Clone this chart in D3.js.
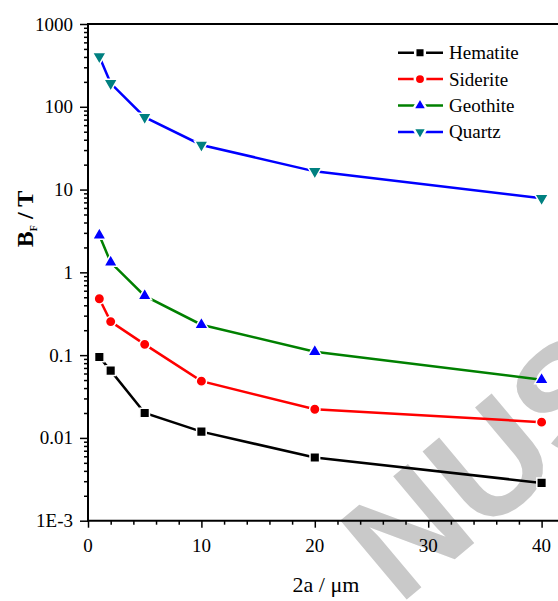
<!DOCTYPE html>
<html lang="en">
<head>
	<title>B_F vs 2a</title>
	<script src="https://d3js.org/d3.v7.min.js" charset="utf-8"></script>
    <style>
        body { margin: 0; background: #fff; }
        text { font-family: "Liberation Serif", "Times New Roman", serif; }
        .axis path, .axis line { stroke: #000; }
    </style>
</head>
<body>
	<script>
    var width = 558,
        height = 601;

    // data
    var sizes = [1, 2, 5, 10, 20, 40];
    var seriesNames = ["Hematite", "Siderite", "Geothite", "Quartz"];
    var hematite = [0.095, 0.065, 0.020, 0.0119, 0.0058, 0.00286];
    var siderite = [0.48, 0.254, 0.135, 0.0485, 0.0222, 0.0155];
    var geothite = [2.8, 1.32, 0.52, 0.233, 0.110, 0.0505];
    var quartz = [405, 192, 75, 34.6, 16.6, 7.85];
    var xTicks = [0, 10, 20, 30, 40];
    var yTicks = [0.001, 0.01, 0.1, 1, 10, 100, 1000];
    var yTickLabels = ["1E-3", "0.01", "0.1", "1", "10", "100", "1000"];

    var series = [
        {name: seriesNames[0], values: hematite, line: "#000000", fill: "#000000", symbol: d3.symbolSquare, size: 92, rot: 0},
        {name: seriesNames[1], values: siderite, line: "#ff0000", fill: "#ff0000", symbol: d3.symbolCircle, size: 85, rot: 0},
        {name: seriesNames[2], values: geothite, line: "#008000", fill: "#0000ff", symbol: d3.symbolTriangle, size: 82, rot: 0},
        {name: seriesNames[3], values: quartz, line: "#0000ff", fill: "#008080", symbol: d3.symbolTriangle, size: 82, rot: 180}
    ];

    var plotLeft = 88, plotTop = 24, plotBottom = 520.7;

    var x = d3.scaleLinear()
            .domain([0, 42])
            .range([plotLeft, plotLeft + 42 * 11.34]);

    var y = d3.scaleLog()
            .domain([0.001, 1000])
            .range([plotBottom, plotTop]);

    var svg = d3.select("body").append("svg")
                .attr("width", width)
                .attr("height", height);

    // watermark behind the plot
    svg.append("text")
        .attr("transform", "translate(399,606) rotate(-40)")
        .attr("fill", "#c9c9c9")
        .style("font-family", "'Liberation Sans', sans-serif")
        .style("font-weight", "bold")
        .style("font-size", "150px")
        .text("NUS");

    // frame top line
    svg.append("line")
        .attr("x1", x(0) - 1).attr("x2", x(42))
        .attr("y1", plotTop).attr("y2", plotTop)
        .attr("stroke", "#000")
        .attr("stroke-width", 2);

    // x axis
    var xAxis = svg.append("g")
        .attr("class", "axis")
        .attr("transform", "translate(0," + plotBottom + ")")
        .call(d3.axisBottom(x)
            .tickValues(d3.range(0, 43, 2))
            .tickSize(4)
            .tickFormat(""));
    xAxis.select(".domain").attr("stroke-width", 2).attr("d", "M" + (x(0) - 1) + ",0H" + x(42));
    xAxis.selectAll(".tick line").attr("stroke-width", 1.5)
        .attr("y2", function(d) { return d % 10 == 0 ? 7 : 4; });

    svg.append("g").selectAll("text")
        .data(xTicks)
        .enter().append("text")
        .attr("x", function(d) { return x(d); })
        .attr("y", 552)
        .attr("text-anchor", "middle")
        .style("font-size", "19px")
        .text(function(d) { return d; });

    // y axis with log minor ticks
    var minor = [];
    for (var e = -3; e < 3; e++) {
        for (var m = 2; m < 10; m++) minor.push(m * Math.pow(10, e));
    }
    var yAxis = svg.append("g")
        .attr("class", "axis")
        .attr("transform", "translate(" + plotLeft + ",0)")
        .call(d3.axisLeft(y)
            .tickValues(yTicks.concat(minor))
            .tickSize(4)
            .tickFormat(""));
    yAxis.select(".domain").attr("stroke-width", 2).attr("d", "M0," + (plotBottom + 1) + "V" + (plotTop - 1));
    yAxis.selectAll(".tick line").attr("stroke-width", 1.5)
        .attr("x2", function(d) { return yTicks.indexOf(d) >= 0 ? -8 : -4; });

    svg.append("g").selectAll("text")
        .data(yTicks)
        .enter().append("text")
        .attr("x", 73)
        .attr("y", function(d) { return y(d) + 6.5; })
        .attr("text-anchor", "end")
        .style("font-size", "19px")
        .text(function(d, i) { return yTickLabels[i]; });

    // axis titles
    svg.append("text")
        .attr("x", 326)
        .attr("y", 592)
        .attr("text-anchor", "middle")
        .style("font-size", "22px")
        .text("2a / \u03bcm");

    var yl = svg.append("text")
        .attr("transform", "translate(33,219) rotate(-90)")
        .attr("text-anchor", "middle")
        .style("font-size", "24px")
        .style("font-weight", "bold");
    yl.append("tspan").text("B");
    yl.append("tspan").attr("dy", 4).style("font-size", "10px").text("F");
    yl.append("tspan").attr("dy", -4).text(" / T");

    // lines and symbols
    var line = d3.line()
        .x(function(d, i) { return x(sizes[i]); })
        .y(function(d) { return y(d); });

    series.forEach(function(s) {
        svg.append("path")
            .datum(s.values)
            .attr("fill", "none")
            .attr("stroke", s.line)
            .attr("stroke-width", 2.5)
            .attr("d", line);

        svg.append("g").selectAll("path")
            .data(s.values)
            .enter().append("path")
            .attr("d", d3.symbol().type(s.symbol).size(s.size))
            .attr("transform", function(d, i) {
                return "translate(" + x(sizes[i]) + "," + y(d) + ") rotate(" + s.rot + ")";
            })
            .attr("fill", s.fill)
            .attr("stroke", "#fff")
            .attr("stroke-width", 1.5);
    });

    // legend
    var legend = svg.append("g")
        .selectAll("g")
        .data(series)
        .enter().append("g")
        .attr("transform", function(d, i) { return "translate(0," + (52.7 + i * 26.4) + ")"; });

    legend.append("line")
        .attr("x1", 398).attr("x2", 443)
        .attr("y1", 0).attr("y2", 0)
        .attr("stroke", function(d) { return d.line; })
        .attr("stroke-width", 2.5);

    legend.append("path")
        .attr("d", function(d) { return d3.symbol().type(d.symbol).size(d.size)(); })
        .attr("transform", function(d) { return "translate(420,0) rotate(" + d.rot + ")"; })
        .attr("fill", function(d) { return d.fill; })
        .attr("stroke", "#fff")
        .attr("stroke-width", 2.5);

    legend.append("text")
        .attr("x", 449)
        .attr("y", 6.5)
        .style("font-size", "19px")
        .text(function(d) { return d.name; });
	</script>
</body>
</html>
